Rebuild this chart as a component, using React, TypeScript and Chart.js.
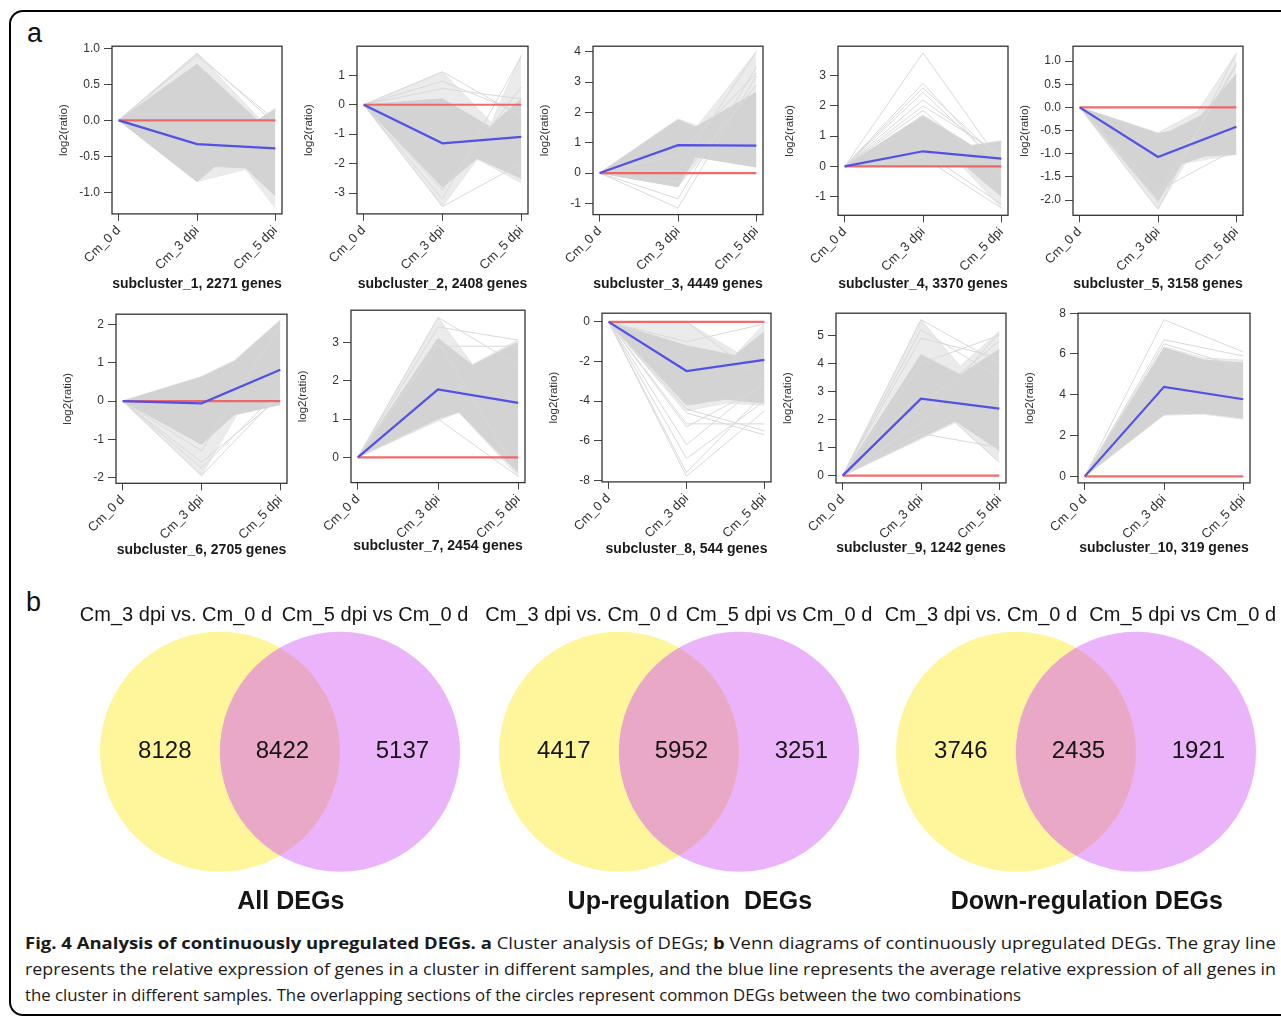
import React, { useEffect, useLayoutEffect, useRef } from "react";
import { Chart, registerables } from "chart.js";

Chart.register(...registerables);

// ---------------- DATA ----------------
const timepoints = ["Cm_0 d", "Cm_3 dpi", "Cm_5 dpi"];
const timeIndex = [0, 1, 2];
const clusterNames = [
  "subcluster_1", "subcluster_2", "subcluster_3", "subcluster_4", "subcluster_5",
  "subcluster_6", "subcluster_7", "subcluster_8", "subcluster_9", "subcluster_10",
];
const geneCounts = [2271, 2408, 4449, 3370, 3158, 2705, 2454, 544, 1242, 319];

// average profile (blue line)
const meanProfiles = [
  [0, -0.33, -0.39],
  [0, -1.31, -1.09],
  [0, 0.92, 0.9],
  [0, 0.5, 0.26],
  [0, -1.07, -0.42],
  [0, -0.06, 0.82],
  [0, 1.77, 1.42],
  [0, -2.48, -1.92],
  [0, 2.74, 2.39],
  [0, 4.39, 3.78],
];
const zeroProfile = [0, 0, 0];

const yTickValues = [
  [-1, -0.5, 0, 0.5, 1],
  [-3, -2, -1, 0, 1],
  [-1, 0, 1, 2, 3, 4],
  [-1, 0, 1, 2, 3],
  [-2, -1.5, -1, -0.5, 0, 0.5, 1],
  [-2, -1, 0, 1, 2],
  [0, 1, 2, 3],
  [-8, -6, -4, -2, 0],
  [0, 1, 2, 3, 4, 5],
  [0, 2, 4, 6, 8],
];
const yLimits = [
  [-1.3, 1.03],
  [-3.71, 1.99],
  [-1.37, 4.18],
  [-1.62, 3.98],
  [-2.33, 1.32],
  [-2.15, 2.27],
  [-0.66, 3.84],
  [-8.08, 0.44],
  [-0.26, 5.79],
  [-0.32, 8.0],
];
const tickDecimals = [1, 0, 0, 0, 1, 0, 0, 0, 0, 0];

// envelope of the dense bundle of gene profiles: [time, log2ratio]
const denseUpper = [
  [[0, 0], [1, 0.78], [1.77, 0.0], [2, 0.15]],
  [[0, 0], [1, 0.2], [1.6, -0.75], [2, 0.2]],
  [[0, 0], [1, 1.75], [1.22, 1.51], [2, 2.66]],
  [[0, 0], [1, 1.66], [1.62, 0.68], [2, 0.82]],
  [[0, 0], [1, -0.57], [1.15, -0.52], [1.55, -0.18], [2, 0.72]],
  [[0, 0], [1, 0.62], [1.42, 1.04], [2, 2.1]],
  [[0, 0], [1, 3.1], [1.43, 2.4], [2, 3.0]],
  [[0, 0], [1, -1.2], [1.62, -1.7], [2, -0.5]],
  [[0, 0], [1, 4.31], [1.5, 3.6], [2, 4.5]],
  [[0, 0], [1, 6.29], [1.5, 5.7], [2, 5.56]],
];
const denseLower = [
  [[0, 0], [1, -0.85], [1.23, -0.64], [1.62, -0.66], [2, -1.05]],
  [[0, 0], [1, -2.8], [1.44, -1.82], [2, -2.5]],
  [[0, 0], [1, -0.45], [1.22, 0.53], [2, 0.2]],
  [[0, 0], [1, 0.03], [1.55, 0.0], [2, -1.0]],
  [[0, 0], [1, -2.0], [1.31, -1.21], [1.6, -1.05], [2, -1.01]],
  [[0, 0], [1, -1.13], [1.42, -0.35], [2, -0.09]],
  [[0, 0], [1, 1.01], [1.26, 1.18], [2, -0.4]],
  [[0, 0], [1, -4.2], [1.5, -3.9], [2, -4.1]],
  [[0, 0], [1, 1.36], [1.44, 1.95], [2, 0.9]],
  [[0, 0], [1, 3.04], [1.5, 3.1], [2, 2.85]],
];
// envelope of the sparse, lighter profiles
const faintUpper = [
  [[0, 0], [1, 0.93], [1.8, 0.02], [2, 0.17]],
  [[0, 0], [1, 1.12], [1.62, -0.62], [2, 1.7]],
  [[0, 0], [1, 1.78], [1.25, 1.55], [2, 4.0]],
  [[0, 0], [1, 1.7], [1.62, 0.7], [2, 0.85]],
  [[0, 0], [1, -0.55], [1.5, -0.1], [2, 1.17]],
  [[0, 0], [1, 0.64], [1.42, 1.06], [2, 2.12]],
  [[0, 0], [1, 3.65], [1.43, 2.42], [2, 3.06]],
  [[0, 0], [1, 0], [1.65, -1.55], [2, -0.1]],
  [[0, 0], [1, 5.56], [1.5, 3.9], [2, 5.14]],
  [[0, 0], [1, 6.35], [1.5, 5.8], [2, 5.7]],
];
const faintLower = [
  [[0, 0], [1, -0.85], [1.62, -0.68], [2, -1.22]],
  [[0, 0], [1, -3.46], [1.44, -1.85], [2, -2.66]],
  [[0, 0], [1, -0.45], [1.3, 0.5], [2, 0.2]],
  [[0, 0], [1, 0.0], [1.5, 0.0], [2, -1.38]],
  [[0, 0], [1, -2.2], [1.35, -1.2], [2, -1.01]],
  [[0, 0], [1, -1.95], [1.45, -0.35], [2, -0.09]],
  [[0, 0], [1, 0.95], [1.26, 1.18], [2, -0.5]],
  [[0, 0], [1, -4.5], [1.5, -4.1], [2, -4.2]],
  [[0, 0], [1, 1.3], [1.44, 1.9], [2, 0.47]],
  [[0, 0], [1, 3.0], [1.5, 3.05], [2, 2.8]],
];
// individual outlying gene profiles
const outlierProfiles = [
  [[0, 0.93, -0.05], [0, 0.9, 0.0]],
  [[0, 1.12, -0.4], [0, 0.8, -0.3], [0, 0.55, 0.2], [0, -3.2, 1.65], [0, -2.9, 0.6], [0, -3.46, -2.0]],
  [[0, -1.15, 3.2], [0, -0.85, 3.5], [0, 0.1, 4.0], [0, 0.6, 3.3], [0, -0.3, 2.9]],
  [[0, 3.76, 0.1], [0, 2.75, -0.1], [0, 2.6, 0.2], [0, 2.45, 0.0], [0, 2.2, 0.3], [0, 2.0, 0.4], [0, 1.85, -0.3], [0, 0.3, -1.38], [0, 0.5, -1.25]],
  [[0, -2.2, 1.17], [0, -2.05, 0.95], [0, -1.9, 0.9], [0, -1.8, -0.9]],
  [[0, -1.95, 0.2], [0, -1.75, 0.3], [0, -1.6, 0.1], [0, -1.3, 2.0]],
  [[0, 3.65, 2.4], [0, 3.4, 3.06], [0, 2.9, 2.9], [0, 1.0, -0.5], [0, 3.0, -0.4]],
  [[0, -7.8, -4.5], [0, -7.6, -3.6], [0, -6.9, -4.0], [0, -6.2, -3.0], [0, -5.15, -5.15], [0, -4.6, -5.7], [0, -5.3, -3.2], [0, -4.4, -5.5], [0, 0, -3.0], [0, -1.0, -0.1]],
  [[0, 5.56, 4.0], [0, 5.2, 3.5], [0, 4.9, 4.2], [0, 1.9, 5.1], [0, 2.5, 4.8], [0, 3.0, 0.47], [0, 1.5, 1.0], [0, 4.0, 5.0]],
  [[0, 7.68, 6.1], [0, 6.7, 5.9], [0, 6.5, 5.3]],
];

const vennSetLabels = ["Cm_3 dpi vs. Cm_0 d", "Cm_5 dpi vs Cm_0 d"];
const vennTitles = ["All DEGs", "Up-regulation  DEGs", "Down-regulation DEGs"];
const vennCounts = [
  [8128, 8422, 5137],
  [4417, 5952, 3251],
  [3746, 2435, 1921],
];

// ---------------- LAYOUT / STYLE ----------------
const FONT = '"Liberation Sans", Arial, Helvetica, sans-serif';
const clusterBoxes = [
  [112, 45, 282, 214.3],
  [356.7, 45, 527.3, 214.3],
  [593.4, 45, 763.5, 215],
  [838.2, 45, 1007.9, 215.7],
  [1073, 45, 1243.2, 215.7],
  [116, 312.7, 286.8, 482.7],
  [350.6, 309.3, 524.1, 482.7],
  [602.4, 312.3, 771.6, 482.3],
  [836.3, 311.7, 1006.4, 482.3],
  [1078, 311.7, 1250.3, 482.3],
];
const subtitleY = [285, 285, 285, 285, 285, 550, 546.7, 550, 548, 548];
const X_MIN = -0.085;
const X_MAX = 2.085;

const vennMidX = [279.5, 679, 1076.4];
const vennCenterY = 751.7;
const vennRadiusPx = 120;
const vennCentersU = [-0.5, 0.5];
const vennCountXU = [-0.96, 0.02, 1.02];
const vennLabelOffsetPx = [
  [-104, 95],
  [-97.5, 100],
  [-95, 106.7],
];

Chart.defaults.font.family = FONT;

const boxPlugin = {
  id: "rbox",
  afterDatasetsDraw(chart: any) {
    const { ctx, chartArea } = chart;
    const { left, top, right, bottom } = chartArea;
    ctx.save();
    ctx.strokeStyle = "#333";
    ctx.lineWidth = 1.3;
    ctx.strokeRect(left, top, right - left, bottom - top);
    ctx.restore();
  },
};

function pts(arr: number[][]) {
  return arr.map(([x, y]) => ({ x, y }));
}
function prof(vals: number[]) {
  return timeIndex.map((x, k) => ({ x, y: vals[k] }));
}

function ClusterChart({ i }: { i: number }) {
  const ref = useRef<HTMLCanvasElement>(null);
  const [L, T, R, B] = clusterBoxes[i];
  const padTop = 10;
  const padRight = 10;
  const yAxisW = 58;
  const titleSize = 14;
  const titleLH = titleSize * 1.2;
  const xAxisH = subtitleY[i] - B + titleLH / 2;
  const left = L - yAxisW;
  const top = T - padTop;
  const width = Math.round(R - L + yAxisW + padRight);
  const height = Math.round(padTop + (B - T) + xAxisH);

  useEffect(() => {
    const datasets: any[] = [];
    datasets.push({
      data: prof(meanProfiles[i]),
      borderColor: "#5151e8",
      borderWidth: 2.2,
      pointRadius: 0,
      fill: false,
      order: 0,
    });
    datasets.push({
      data: prof(zeroProfile),
      borderColor: "rgba(238,92,92,0.9)",
      borderWidth: 2.2,
      pointRadius: 0,
      fill: false,
      order: 1,
    });
    outlierProfiles[i].forEach((p) => {
      datasets.push({
        data: prof(p),
        borderColor: "#d9d9d9",
        borderWidth: 1,
        pointRadius: 0,
        fill: false,
        order: 2,
      });
    });
    datasets.push({
      data: pts(denseUpper[i]),
      borderColor: "#d3d3d3",
      backgroundColor: "#d3d3d3",
      borderWidth: 1,
      pointRadius: 0,
      fill: "+1",
      order: 3,
    });
    datasets.push({
      data: pts(denseLower[i]),
      borderColor: "#d3d3d3",
      borderWidth: 1,
      pointRadius: 0,
      fill: false,
      order: 3,
    });
    datasets.push({
      data: pts(faintUpper[i]),
      borderColor: "#e4e4e4",
      backgroundColor: "#ebebeb",
      borderWidth: 1,
      pointRadius: 0,
      fill: "+1",
      order: 4,
    });
    datasets.push({
      data: pts(faintLower[i]),
      borderColor: "#e4e4e4",
      borderWidth: 1,
      pointRadius: 0,
      fill: false,
      order: 4,
    });

    const chart = new Chart(ref.current!, {
      type: "line",
      data: { datasets },
      options: {
        animation: false,
        responsive: false,
        events: [],
        layout: { padding: { top: padTop, right: padRight, left: 0, bottom: 0 } },
        plugins: { legend: { display: false }, tooltip: { enabled: false } },
        scales: {
          x: {
            type: "linear",
            min: X_MIN,
            max: X_MAX,
            afterBuildTicks: (s: any) => {
              s.ticks = timeIndex.map((v) => ({ value: v }));
            },
            afterFit: (s: any) => {
              s.height = xAxisH;
            },
            ticks: {
              autoSkip: false,
              minRotation: 45,
              maxRotation: 45,
              padding: 2,
              color: "#333",
              font: { size: 13, family: FONT },
              callback: (v: any) => timepoints[Math.round(Number(v))],
            },
            grid: { display: true, drawOnChartArea: false, drawTicks: true, tickLength: 7, color: "#444" },
            border: { display: false },
            title: {
              display: true,
              text: `${clusterNames[i]}, ${geneCounts[i]} genes`,
              color: "#1a1a1a",
              padding: 0,
              font: { size: titleSize, weight: "bold", family: FONT },
            },
          },
          y: {
            type: "linear",
            min: yLimits[i][0],
            max: yLimits[i][1],
            afterBuildTicks: (s: any) => {
              s.ticks = yTickValues[i].map((v) => ({ value: v }));
            },
            afterFit: (s: any) => {
              s.width = yAxisW;
            },
            ticks: {
              padding: 4,
              color: "#333",
              font: { size: 12, family: FONT },
              callback: (v: any) => Number(v).toFixed(tickDecimals[i]),
            },
            grid: { display: true, drawOnChartArea: false, drawTicks: true, tickLength: 8, color: "#444" },
            border: { display: false },
            title: {
              display: true,
              text: "log2(ratio)",
              color: "#333",
              padding: { top: 3, bottom: 0 },
              font: { size: 11.5, family: FONT },
            },
          },
        },
      } as any,
      plugins: [boxPlugin],
    });
    return () => chart.destroy();
  }, [i]);

  return (
    <canvas
      ref={ref}
      width={width}
      height={height}
      style={{ position: "absolute", left, top, width, height }}
    />
  );
}

function VennChart({ i }: { i: number }) {
  const ref = useRef<HTMLCanvasElement>(null);
  const W = 440;
  const H = 330;
  const top = 595;
  const left = vennMidX[i] - W / 2;

  useEffect(() => {
    const u = vennRadiusPx;
    const xMax = W / 2 / u;
    const yMax = (vennCenterY - top) / u;
    const yMin = -(top + H - vennCenterY) / u;
    const plugin = {
      id: "venn" + i,
      beforeDatasetsDraw(chart: any) {
        const { ctx, scales } = chart;
        const x = scales.x;
        const y = scales.y;
        const r = x.getPixelForValue(1) - x.getPixelForValue(0);
        const cy = y.getPixelForValue(0);
        const ca = x.getPixelForValue(vennCentersU[0]);
        const cb = x.getPixelForValue(vennCentersU[1]);
        ctx.save();
        ctx.beginPath();
        ctx.arc(ca, cy, r, 0, Math.PI * 2);
        ctx.fillStyle = "#fff59b";
        ctx.fill();
        ctx.beginPath();
        ctx.arc(cb, cy, r, 0, Math.PI * 2);
        ctx.fillStyle = "#ebb4fa";
        ctx.fill();
        ctx.beginPath();
        ctx.arc(ca, cy, r, 0, Math.PI * 2);
        ctx.clip();
        ctx.beginPath();
        ctx.arc(cb, cy, r, 0, Math.PI * 2);
        ctx.fillStyle = "#e9a8c5";
        ctx.fill();
        ctx.restore();
      },
      afterDatasetsDraw(chart: any) {
        const { ctx, scales } = chart;
        const x = scales.x;
        const y = scales.y;
        ctx.save();
        ctx.fillStyle = "#151515";
        ctx.textAlign = "center";
        ctx.textBaseline = "middle";
        ctx.font = `20px ${FONT}`;
        vennSetLabels.forEach((lab, k) => {
          ctx.fillText(lab, x.getPixelForValue(vennLabelOffsetPx[i][k] / u), y.getPixelForValue(1.139));
        });
        ctx.font = `24px ${FONT}`;
        vennCounts[i].forEach((c, k) => {
          ctx.fillText(String(c), x.getPixelForValue(vennCountXU[k]), y.getPixelForValue(0));
        });
        ctx.font = `bold 25px ${FONT}`;
        ctx.fillText(vennTitles[i], x.getPixelForValue(0.09), y.getPixelForValue(-1.25));
        ctx.restore();
      },
    };
    const chart = new Chart(ref.current!, {
      type: "scatter",
      data: {
        datasets: [{ data: vennCentersU.map((c) => ({ x: c, y: 0 })), pointRadius: 0 }],
      },
      options: {
        animation: false,
        responsive: false,
        events: [],
        layout: { padding: 0 },
        plugins: { legend: { display: false }, tooltip: { enabled: false } },
        scales: {
          x: { type: "linear", min: -xMax, max: xMax, display: false },
          y: { type: "linear", min: yMin, max: yMax, display: false },
        },
      } as any,
      plugins: [plugin],
    });
    return () => chart.destroy();
  }, [i]);

  return (
    <canvas
      ref={ref}
      width={W}
      height={H}
      style={{ position: "absolute", left, top, width: W, height: H }}
    />
  );
}

function CaptionLine({ top, target, children }: { top: number; target: number; children: any }) {
  const ref = useRef<HTMLDivElement>(null);
  useLayoutEffect(() => {
    const el = ref.current;
    if (!el) return;
    el.style.transform = "none";
    const w = el.getBoundingClientRect().width;
    if (w > 0) el.style.transform = `scaleX(${target / w})`;
  }, [target]);
  return (
    <div
      ref={ref}
      style={{
        position: "absolute",
        left: 25,
        top,
        whiteSpace: "pre",
        transformOrigin: "0 0",
        fontFamily: '"Open Sans", "Noto Sans", sans-serif',
        fontSize: 16.5,
        lineHeight: "24px",
        color: "#1a1a1a",
        display: "inline-block",
      }}
    >
      {children}
    </div>
  );
}

export default function App() {
  useEffect(() => {
    document.body.style.margin = "0";
  }, []);
  return (
    <div
      style={{
        position: "relative",
        width: 1281,
        height: 1018,
        overflow: "hidden",
        background: "#fff",
        fontFamily: FONT,
      }}
    >
      <style>{"body{margin:0}"}</style>
      <div
        style={{
          position: "absolute",
          left: 9,
          top: 10,
          width: 1320,
          height: 1006,
          boxSizing: "border-box",
          border: "2.5px solid #000",
          borderRadius: 14,
        }}
      />
      <div style={{ position: "absolute", left: 27, top: 20, fontSize: 27, lineHeight: "27px", fontFamily: FONT, color: "#111" }}>a</div>
      <div style={{ position: "absolute", left: 26, top: 589, fontSize: 27, lineHeight: "27px", fontFamily: FONT, color: "#111" }}>b</div>
      {clusterNames.map((_, i) => (
        <ClusterChart key={i} i={i} />
      ))}
      {vennTitles.map((_, i) => (
        <VennChart key={i} i={i} />
      ))}
      <CaptionLine top={931} target={1251}>
        <b>Fig. 4 Analysis of continuously upregulated DEGs.</b> <b>a</b> Cluster analysis of DEGs; <b>b</b> Venn diagrams of continuously upregulated DEGs. The gray line
      </CaptionLine>
      <CaptionLine top={957} target={1251}>
        represents the relative expression of genes in a cluster in different samples, and the blue line represents the average relative expression of all genes in
      </CaptionLine>
      <CaptionLine top={983} target={996}>
        the cluster in different samples. The overlapping sections of the circles represent common DEGs between the two combinations
      </CaptionLine>
    </div>
  );
}
